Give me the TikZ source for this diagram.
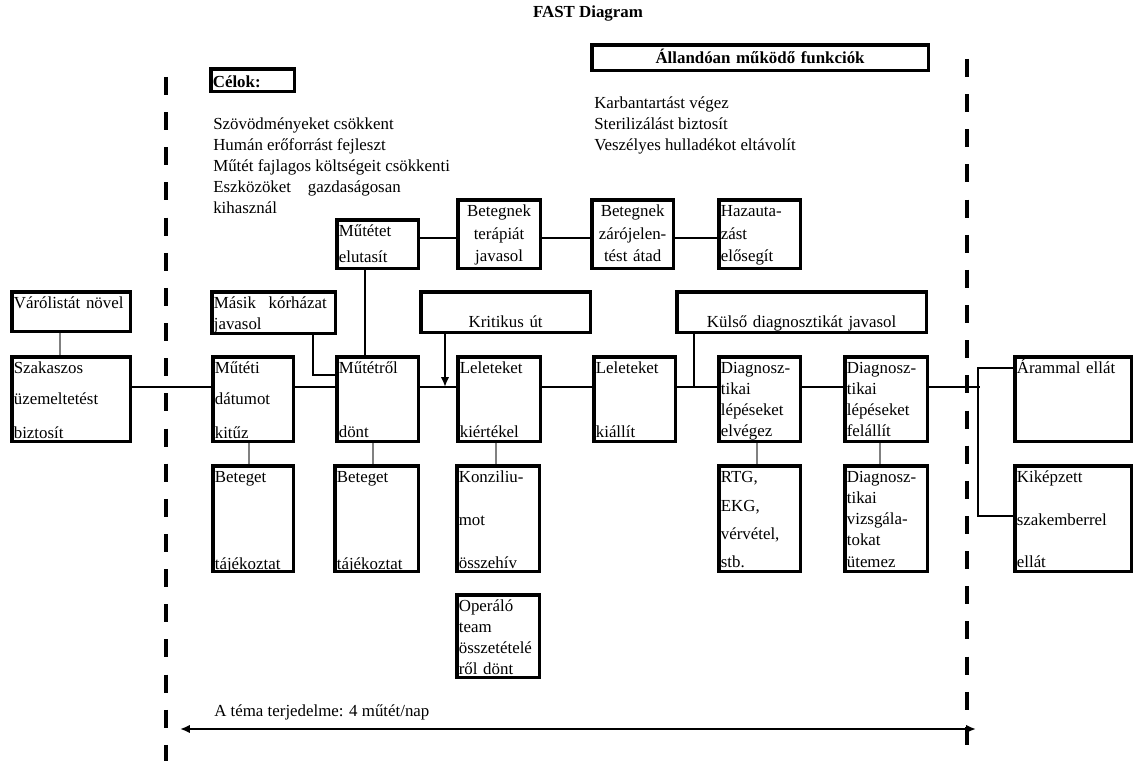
\documentclass[tikz,border=0pt]{standalone}
\usepackage{fontspec}
\setmainfont{Liberation Serif}
\usepackage{tikz}
\usetikzlibrary{arrows.meta, positioning}

\begin{document}
\begin{tikzpicture}[
    x=0.025cm, y=-0.025cm,
    every node/.style={font=\fontsize{12}{15}\selectfont},
    fnbox/.style={
        rectangle,
        draw=black,
        line width=2.5pt,
        anchor=north west,
        align=left,
        inner xsep=1.5pt,
        inner ysep=0pt,
        text height=12pt
    },
    headbox/.style={
        fnbox,
        font=\bfseries\fontsize{12}{15}\selectfont
    },
    listtext/.style={
        anchor=base west,
        align=left,
        inner sep=0pt
    },
    trunk/.style={line width=1.8pt},
    tie/.style={line width=0.8pt, draw=gray},
    fence/.style={line width=2.8pt, dash pattern=on 12.8pt off 12.2pt},
    arrow/.style={
        line width=1.8pt,
        -{Latex[length=7pt, width=6pt]}
    }
]
\useasboundingbox (0,0) rectangle (1133,761);

% ==================== HEADER ====================
\node (title) [anchor=base, font=\bfseries\fontsize{12}{15}\selectfont] at (588,18) {FAST Diagram};
\node (b_celok) [headbox, text width=56.5pt, text height=13pt, text depth=3.1pt] at (209,67) {Célok:};
% list nodes sit on the baseline of their last line
\node (goals) [listtext] at (213,214) {Szövödményeket csökkent\\Humán erőforrást fejleszt\\Műtét fajlagos költségeit csökkenti\\Eszközöket\hspace{12pt}gazdaságosan\\kihasznál};
\node (b_alland) [headbox, align=center, text width=236.4pt, text height=13.4pt, text depth=4.8pt] at (590,43) {Állandóan működő funkciók};
\node (duties) [listtext] at (594,151) {Karbantartást végez\\Sterilizálást biztosít\\Veszélyes hulladékot eltávolít};

% scope borders
\draw[fence] (166,77) -- (166,761);
\draw[fence] (967,59) -- (967,761);

% ==================== LEFT: OUTSIDE SCOPE ====================
\node (b_varo) [fnbox, text width=81.4pt, text depth=16.2pt] at (10,290) {Várólistát növel};
\node (b_szak) [fnbox, text width=81.4pt, text depth=48.2pt] at (10,355) {Szakaszos\\[7pt]üzemeltetést\\[9pt]biztosít};

% ==================== CRITICAL PATH ====================
\node (b_datum) [fnbox, text width=54.4pt, text depth=48.2pt] at (211,355) {Műtéti\\[7pt]dátumot\\[9pt]kitűz};
\node (b_masik) [fnbox, text width=84.9pt, text depth=17.6pt] at (210,290) {Másik\hspace{9pt}kórházat\\javasol};
\node (b_elut) [fnbox, text width=55.1pt, text depth=22.6pt] at (335,218) {Műtétet\\[3.5pt]elutasít};
\node (b_dont) [fnbox, text width=55.1pt, text depth=48.2pt] at (335,355) {Műtétről\\[30.5pt]dönt};
\node (b_terap) [fnbox, align=center, text width=55.8pt, text depth=36.8pt] at (456,198) {Betegnek\\[1pt]terápiát\\[1pt]javasol};
\node (b_zaro) [fnbox, align=center, text width=55.1pt, text depth=36.8pt] at (590,198) {Betegnek\\[1pt]zárójelen-\\[1pt]tést átad};
\node (b_haza) [fnbox, text width=55.1pt, text depth=36.8pt] at (717,198) {Hazauta-\\[1pt]zást\\[1pt]elősegít};
\node (b_krit) [fnbox, align=center, text width=117.7pt, text height=25.5pt, text depth=3.4pt] at (419,290) {Kritikus út};
\node (b_kiert) [fnbox, text width=55.8pt, text depth=48.2pt] at (456,355) {Leleteket\\[30.5pt]kiértékel};
\node (b_kiall) [fnbox, text width=55.1pt, text depth=48.2pt] at (592,355) {Leleteket\\[30.5pt]kiállít};
\node (b_kulso) [fnbox, align=center, text width=174.6pt, text height=25.5pt, text depth=3.4pt] at (675,290) {Külső diagnosztikát javasol};
\node (b_delv) [fnbox, text width=55.1pt, text depth=48.2pt] at (717,355) {Diagnosz-\\tikai\\lépéseket\\elvégez};
\node (b_dfel) [fnbox, text width=55.8pt, text depth=48.2pt] at (843,355) {Diagnosz-\\tikai\\lépéseket\\felállít};

% supporting functions below
\node (b_info1) [fnbox, text width=54.4pt, text depth=63.1pt] at (211,464) {Beteget\\[46.9pt]tájékoztat};
\node (b_info2) [fnbox, text width=56.5pt, text depth=63.1pt] at (333,464) {Beteget\\[46.9pt]tájékoztat};
\node (b_konz) [fnbox, text width=55.8pt, text depth=63.1pt] at (455,464) {Konziliu-\\[15.6pt]mot\\[15.6pt]összehív};
\node (b_oper) [fnbox, text width=55.8pt, text depth=46.8pt] at (455,593) {Operáló\\team\\összetételé\\ről dönt};
\node (b_rtg) [fnbox, text width=55.1pt, text depth=63.1pt] at (717,464) {RTG,\\[5.2pt]EKG,\\[5.2pt]vérvétel,\\[5.2pt]stb.};
\node (b_dviz) [fnbox, text width=55.8pt, text depth=63.1pt] at (843,464) {Diagnosz-\\tikai\\vizsgála-\\tokat\\ütemez};

% ==================== RIGHT: OUTSIDE SCOPE ====================
\node (b_aram) [fnbox, text width=80pt, text depth=48.2pt] at (1013,355) {Árammal ellát};
\node (b_kikep) [fnbox, text width=80pt, text depth=63.1pt] at (1013,464) {Kiképzett\\[15.2pt]szakemberrel\\[15.2pt]ellát};

% ==================== CONNECTORS ====================
\coordinate (mainrow) at (0,387);
\coordinate (fork) at (980,387);

\draw[trunk] (b_szak.east |- mainrow) -- (b_datum.west |- mainrow);
\draw[trunk] (b_datum.east |- mainrow) -- (b_dont.west |- mainrow);
\draw[trunk] (b_dont.east |- mainrow) -- (b_kiert.west |- mainrow);
\draw[trunk] (b_kiert.east |- mainrow) -- (b_kiall.west |- mainrow);
\draw[trunk] (b_kiall.east |- mainrow) -- (b_delv.west |- mainrow);
\draw[trunk] (b_delv.east |- mainrow) -- (b_dfel.west |- mainrow);
\draw[trunk] (b_dfel.east |- mainrow) -- (fork);
\draw[trunk] (b_aram.west |- 0,368) -- (978,368) -- (978,516) -- (b_kikep.west |- 0,516);

\draw[trunk] (b_elut.east |- 0,238) -- (b_terap.west |- 0,238);
\draw[trunk] (b_terap.east |- 0,238) -- (b_zaro.west |- 0,238);
\draw[trunk] (b_zaro.east |- 0,238) -- (b_haza.west |- 0,238);
\draw[trunk] (b_elut.south -| 365,0) -- (b_dont.north -| 365,0);
\draw[trunk] (b_masik.south -| 313,0) |- (b_dont.west |- 0,375);
\draw[arrow] (b_krit.south -| 445,0) -- (mainrow -| 445,0);
\draw[trunk] (b_kulso.south -| 694,0) -- (mainrow -| 694,0);

\draw[tie] (b_varo.south -| 60,0) -- (b_szak.north -| 60,0);
\draw[tie] (b_datum.south -| 249,0) -- (b_info1.north -| 249,0);
\draw[tie] (b_dont.south -| 373,0) -- (b_info2.north -| 373,0);
\draw[tie] (b_kiert.south -| 496,0) -- (b_konz.north -| 496,0);
\draw[tie] (b_delv.south -| 757,0) -- (b_rtg.north -| 757,0);
\draw[tie] (b_dfel.south -| 880,0) -- (b_dviz.north -| 880,0);

% scope of the study
\node (scope) [listtext] at (214,716) {A téma terjedelme: 4 műtét/nap};
\coordinate (span_l) at (180,729);
\coordinate (span_r) at (976,729);
\draw[line width=1.8pt, {Latex[length=7pt, width=6pt]}-{Latex[length=7pt, width=6pt]}] (span_l) -- (span_r);

\end{tikzpicture}
\end{document}
